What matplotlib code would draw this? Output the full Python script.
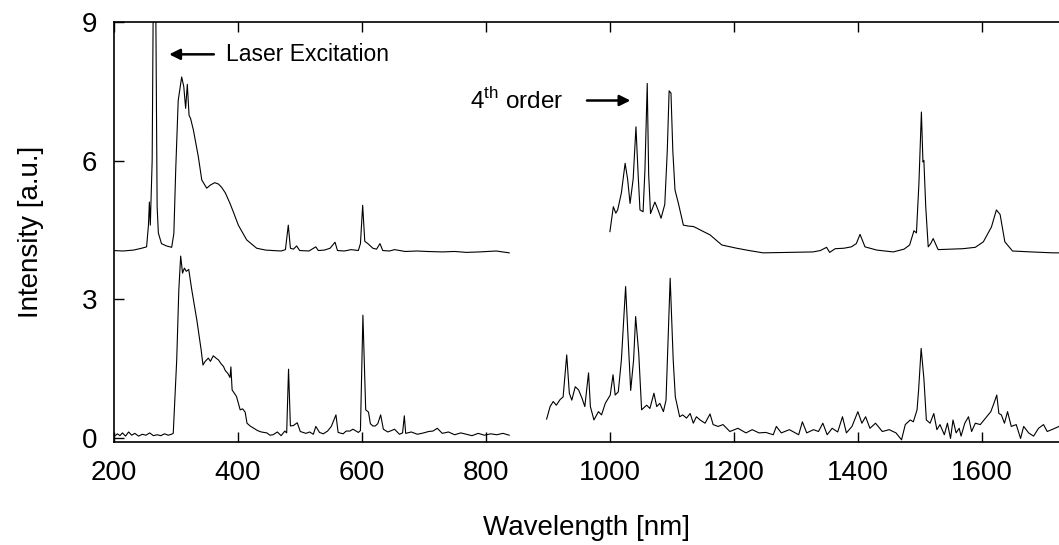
import matplotlib
matplotlib.use("Agg")
import matplotlib.pyplot as plt

plt.rcParams['font.family'] = ['Liberation Sans', 'DejaVu Sans']
plt.rcParams['mathtext.fontset'] = 'custom'
plt.rcParams['mathtext.rm'] = 'Liberation Sans'

# upper spectrum, short wavelengths (offset by 4)
up_left_x = [200, 215, 232, 245, 253, 256, 257.5, 259, 262, 265, 268, 270, 272, 277, 285, 293.5,
             297, 300, 304, 309.6, 313, 316, 318.7, 321.5, 324, 328.5, 336.5, 342, 350, 356, 363,
             369, 374, 380, 387.6, 394, 401, 414.5, 430.6, 445, 457, 470, 477, 481.6, 485, 490,
             495, 500, 515, 526, 530, 540, 549, 557, 561, 572, 583, 594.6, 598, 601.6, 605,
             610, 618, 624, 629.5, 634, 645, 653, 670, 690, 705, 730, 750, 769, 790, 817, 838]
up_left_y = [4.05, 4.04, 4.06, 4.1, 4.13, 4.6, 5.1, 4.6, 6.0, 12.0, 9.0, 5.0, 4.43, 4.2, 4.15, 4.12,
             4.42, 5.8, 7.3, 7.81, 7.6, 7.13, 7.65, 6.98, 6.91, 6.66, 6.08, 5.58, 5.4, 5.47, 5.52,
             5.49, 5.42, 5.3, 5.07, 4.85, 4.6, 4.28, 4.1, 4.06, 4.05, 4.04, 4.07, 4.6, 4.1, 4.08,
             4.15, 4.05, 4.04, 4.13, 4.05, 4.06, 4.1, 4.23, 4.05, 4.04, 4.07, 4.05, 4.2, 5.03, 4.25,
             4.2, 4.1, 4.08, 4.2, 4.05, 4.04, 4.07, 4.03, 4.04, 4.03, 4.02, 4.03, 4.01, 4.02, 4.04, 4.0]

# upper spectrum, long wavelengths (offset by 4)
up_right_x = [1000.5, 1006, 1010, 1013, 1019, 1025, 1029, 1033, 1038, 1042.5, 1046, 1049, 1054,
              1057, 1060.7, 1063, 1066, 1073, 1075.5, 1079, 1083, 1089, 1093, 1096, 1099, 1102,
              1105.5, 1111, 1119, 1127, 1135, 1138.5, 1150, 1162, 1181, 1205, 1225, 1247.5, 1290,
              1328, 1340, 1350, 1355, 1364, 1378, 1390, 1398, 1404, 1412, 1431, 1457.5, 1475,
              1484, 1491, 1495, 1499, 1503, 1505.5, 1507, 1510, 1514, 1518, 1522, 1530, 1570,
              1590, 1603, 1616, 1624, 1630, 1637.6, 1650, 1680, 1715, 1725]
up_right_y = [4.46, 5.0, 4.86, 4.93, 5.3, 5.94, 5.6, 5.07, 5.6, 6.73, 5.7, 4.93, 4.89,
              5.8, 7.67, 5.7, 4.85, 5.1, 5.02, 4.9, 4.75, 5.05, 6.2, 7.51, 7.46, 6.2,
              5.36, 5.07, 4.6, 4.58, 4.57, 4.55, 4.47, 4.39, 4.17, 4.1, 4.05, 4.0, 4.01,
              4.02, 4.05, 4.12, 4.01, 4.09, 4.1, 4.13, 4.2, 4.4, 4.13, 4.06, 4.02, 4.08,
              4.17, 4.48, 4.43, 5.5, 7.05, 5.97, 6.0, 5.0, 4.13, 4.2, 4.31, 4.07, 4.09,
              4.12, 4.24, 4.56, 4.93, 4.83, 4.24, 4.04, 4.02, 4.0, 4.0]

# lower spectrum, short wavelengths
low_left_x = [200, 206, 210, 214, 219, 224, 229, 234, 240, 246, 252, 258, 264, 270, 276, 282, 288,
              293, 296, 301.6, 305, 308, 311, 314, 317, 321, 326, 334, 341, 344, 347, 352.6,
              356, 360.6, 365, 369, 373, 377, 380, 384, 387.6, 389, 391, 398, 404, 408, 412, 415,
              420, 426, 432, 438, 447, 452, 457, 464, 470, 476, 479, 482, 485, 490, 496, 501,
              510, 516, 522, 526, 532, 538, 545, 551, 558.5, 562, 570, 575, 581, 586, 594.6,
              598, 602, 606.5, 611, 614, 618, 622, 626, 630.6, 635, 642, 648, 653, 661, 666,
              668.8, 671, 680, 690, 700, 708, 715, 722, 730, 740, 750, 760, 769, 778, 788, 798,
              808, 818, 828, 838]
low_left_y = [0.02, 0.08, 0.04, 0.1, 0.03, 0.12, 0.05, 0.09, 0.03, 0.07, 0.05, 0.1, 0.04, 0.06, 0.04,
              0.08, 0.05, 0.07, 0.09, 1.68, 3.2, 3.93, 3.56, 3.67, 3.6, 3.64, 3.19, 2.55, 1.9, 1.57,
              1.64, 1.72, 1.65, 1.77, 1.72, 1.68, 1.6, 1.54, 1.45, 1.39, 1.3, 1.53, 1.03, 0.89,
              0.6, 0.62, 0.55, 0.31, 0.25, 0.2, 0.15, 0.12, 0.1, 0.05, 0.06, 0.12, 0.04, 0.14,
              0.1, 1.48, 0.25, 0.26, 0.32, 0.13, 0.09, 0.12, 0.07, 0.24, 0.11, 0.08, 0.14, 0.24,
              0.49, 0.11, 0.08, 0.14, 0.14, 0.18, 0.11, 0.15, 2.65, 0.6, 0.55, 0.3, 0.25, 0.25,
              0.3, 0.49, 0.18, 0.12, 0.15, 0.18, 0.07, 0.1, 0.47, 0.09, 0.12, 0.07, 0.1, 0.13,
              0.14, 0.2, 0.09, 0.12, 0.06, 0.1, 0.07, 0.04, 0.09, 0.05, 0.08, 0.06, 0.09, 0.05]

# lower spectrum, long wavelengths
low_right_x = [898.4, 904, 909, 914, 920, 925, 930.8, 935, 939, 944.6, 950, 955.5, 960, 966, 969,
               974.7, 982, 987, 993, 1001, 1005.5, 1009, 1014, 1019, 1025.8, 1030, 1034, 1038.7,
               1042, 1047, 1051.6, 1059.7, 1065, 1071.5, 1076, 1081, 1086.8, 1091, 1097.7,
               1102.6, 1106, 1113, 1118, 1124, 1130, 1135, 1140, 1146, 1154, 1162, 1167, 1175,
               1183, 1194, 1207, 1220, 1230, 1241, 1252, 1264, 1269, 1277, 1290, 1305, 1311,
               1318, 1329, 1337, 1344, 1351, 1359, 1368, 1375.7, 1382, 1391, 1400.5, 1407,
               1413, 1420, 1429, 1440, 1451, 1462, 1471, 1477, 1485, 1490, 1496, 1498.5,
               1502.6, 1507, 1511, 1517, 1523, 1528, 1533, 1540, 1545, 1550, 1554, 1559, 1564,
               1567, 1573, 1579, 1584, 1590, 1598, 1615, 1620, 1624.6, 1628, 1632, 1637, 1642,
               1648, 1656, 1663, 1668, 1676, 1684, 1692, 1700, 1706, 1715, 1725]
low_right_y = [0.4, 0.67, 0.78, 0.7, 0.82, 0.88, 1.79, 0.96, 0.81, 1.1, 1.03, 0.85, 0.67, 1.4, 0.67,
               0.38, 0.56, 0.49, 0.74, 0.92, 1.36, 0.92, 0.99, 1.68, 3.27, 2.11, 1.02, 1.68,
               2.62, 1.82, 0.6, 0.7, 0.63, 0.96, 0.67, 0.74, 0.56, 0.81, 3.45,
               1.68, 0.88, 0.45, 0.49, 0.42, 0.52, 0.31, 0.45, 0.38, 0.31, 0.51, 0.28, 0.24,
               0.28, 0.13, 0.2, 0.1, 0.17, 0.1, 0.11, 0.06, 0.24, 0.1, 0.17, 0.06, 0.34,
               0.1, 0.17, 0.13, 0.31, 0.06, 0.2, 0.12, 0.45, 0.1, 0.24, 0.56, 0.31,
               0.45, 0.2, 0.31, 0.13, 0.17, 0.1, -0.05, 0.28, 0.38, 0.34, 0.6, 1.03,
               1.93, 1.28, 0.38, 0.31, 0.52, 0.17, 0.28, 0.06, 0.31, -0.02, 0.38, 0.1, 0.2,
               0.03, 0.31, 0.45, 0.13, 0.31, 0.28, 0.56, 0.74, 0.92, 0.52, 0.49, 0.31, 0.56,
               0.24, 0.28, -0.02, 0.24, 0.1, 0.03, 0.2, 0.28, 0.13, 0.18, 0.24]

x_ticks = [200, 400, 600, 800, 1000, 1200, 1400, 1600]
y_ticks = [0, 3, 6, 9]

fig = plt.figure(figsize=(10.59, 5.45), dpi=100)
ax = fig.add_axes([0.1074, 0.1896, 0.8926, 0.77])

for xs, ys in [(up_left_x, up_left_y), (up_right_x, up_right_y),
               (low_left_x, low_left_y), (low_right_x, low_right_y)]:
    ax.plot(xs, ys, color='black', lw=0.8)

ax.set_xlim(200, 1725)
ax.set_ylim(-0.09, 9)
ax.set_xticks(x_ticks)
ax.set_yticks(y_ticks)
ax.tick_params(direction='in', length=7, width=1, labelsize=20, top=True)
ax.tick_params(axis='x', pad=13)
ax.tick_params(axis='y', pad=12)
for s in ['left', 'bottom', 'top']:
    ax.spines[s].set_linewidth(1.2)
ax.spines['right'].set_visible(False)

ax.set_xlabel('Wavelength [nm]', fontsize=20, labelpad=21)
ax.set_ylabel('Intensity [a.u.]', fontsize=20, labelpad=27)

ax.annotate('', xy=(285, 8.3), xytext=(366, 8.3),
            arrowprops=dict(arrowstyle='-|>', color='black', lw=1.8, mutation_scale=16))
ax.text(381, 8.3, 'Laser Excitation', fontsize=16.5, va='center', ha='left')

ax.annotate('', xy=(1038, 7.3), xytext=(959, 7.3),
            arrowprops=dict(arrowstyle='-|>', color='black', lw=1.8, mutation_scale=16))
ax.text(775, 7.3, r'4$^{\rm th}$ order', fontsize=17.5, va='center', ha='left')

fig.savefig('out.png', dpi=100)
